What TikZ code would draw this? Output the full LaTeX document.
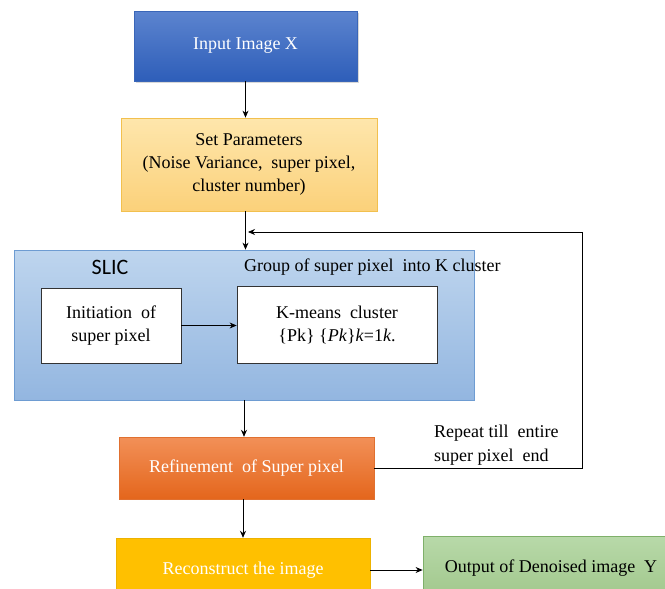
\documentclass[tikz,border=0pt]{standalone}
\usepackage{fontspec}
\setmainfont{Liberation Serif}
\newfontfamily\slicfont{Carlito}
\usetikzlibrary{arrows.meta,shadows}
\definecolor{inTop}{HTML}{5C84CF}
\definecolor{inBot}{HTML}{2E5EB9}
\definecolor{inBord}{HTML}{3A66B8}
\definecolor{setTop}{HTML}{FEE6AC}
\definecolor{setBot}{HTML}{FBD17A}
\definecolor{setBord}{HTML}{F2C04E}
\definecolor{slTop}{HTML}{BED5EE}
\definecolor{slBot}{HTML}{93B6E0}
\definecolor{slBord}{HTML}{6E9CD2}
\definecolor{rfTop}{HTML}{F29058}
\definecolor{rfBot}{HTML}{E4661C}
\definecolor{rfBord}{HTML}{E07030}
\definecolor{rcFill}{HTML}{FFC000}
\definecolor{rcBord}{HTML}{EDB200}
\definecolor{ouTop}{HTML}{B8D9A9}
\definecolor{ouBot}{HTML}{A0C78B}
\definecolor{ouBord}{HTML}{7FB06A}
\begin{document}
\begin{tikzpicture}[x=1pt,y=-1pt,
  box/.style={rectangle, inner sep=0pt, align=center, font=\fontsize{18}{23}\selectfont},
  whitebox/.style={box, draw=black!80, line width=0.8pt, fill=white},
  conn/.style={draw=black, line width=0.8pt, -{Stealth[length=7pt,width=6pt]}},
  lbl/.style={inner sep=0pt, font=\fontsize{18}{24}\selectfont}]
\useasboundingbox (0,0) rectangle (665,589);
\clip (0,0) rectangle (665,589);
\fill[white] (0,0) rectangle (665,589);

\node[box, minimum width=223pt, minimum height=70pt, top color=inTop, bottom color=inBot,
      draw=inBord, text=white, drop shadow={opacity=0.3,shadow xshift=1.5pt,shadow yshift=-2pt}]
      (input) at (245.5,46) {Input Image X};
\node[box, minimum width=256pt, minimum height=93pt, top color=setTop, bottom color=setBot,
      draw=setBord, line width=0.8pt] (set) at (249,164.5)
      {Set Parameters\\(Noise Variance,\ \ super pixel,\\cluster number)};
\node[box, minimum width=460pt, minimum height=150pt, top color=slTop, bottom color=slBot,
      draw=slBord, line width=0.8pt] (slic) at (244,325) {};
\node[inner sep=0pt, font=\slicfont\fontsize{22}{26}\selectfont] (sliclbl) at (110,267) {SLIC};
\node[lbl, anchor=west] (grouplbl) at (244,267) {Group of super pixel\ \ into K cluster};
\node[whitebox, minimum width=140pt, minimum height=75pt] (init) at (111,325.5)
      {Initiation\ \ of\\super pixel};
\node[whitebox, minimum width=200pt, minimum height=77pt] (kmeans) at (337,324.5)
      {K-means\ \ cluster\\\{Pk\} \{\textit{Pk}\}\textit{k}=1\textit{k}.};
\node[box, minimum width=255pt, minimum height=62pt, top color=rfTop, bottom color=rfBot,
      draw=rfBord, text=white] (refine) at (246.5,468) {Refinement\ \ of Super pixel};
\node[box, minimum width=254pt, minimum height=64pt, fill=rcFill, draw=rcBord,
      text=white] (recon) at (243,570) {Reconstruct the image};
\node[box, minimum width=256pt, minimum height=64pt, top color=ouTop, bottom color=ouBot,
      draw=ouBord, line width=0.8pt] (output) at (551,568) {Output of Denoised image\ \ Y};
\node[lbl, anchor=west, align=left] (repeat) at (434,445) {Repeat till\ \ entire\\super pixel\ \ end};

\coordinate (fb) at (582,232);
\draw[conn] (input.south) -- (input.south |- set.north);
\draw[conn] (set.south -| input.south) -- (input.south |- slic.north);
\draw[conn] (init.east) -- (kmeans.west |- init.east);
\draw[conn] (slic.south) -- (slic.south |- refine.north);
\draw[conn] (refine.south -| recon.north) -- (recon.north);
\draw[conn] (recon.east) -- (output.west |- recon.east);
\draw[conn] (refine.east) -| (fb) -- ([xshift=2.5pt]input.south |- fb);
\end{tikzpicture}
\end{document}
